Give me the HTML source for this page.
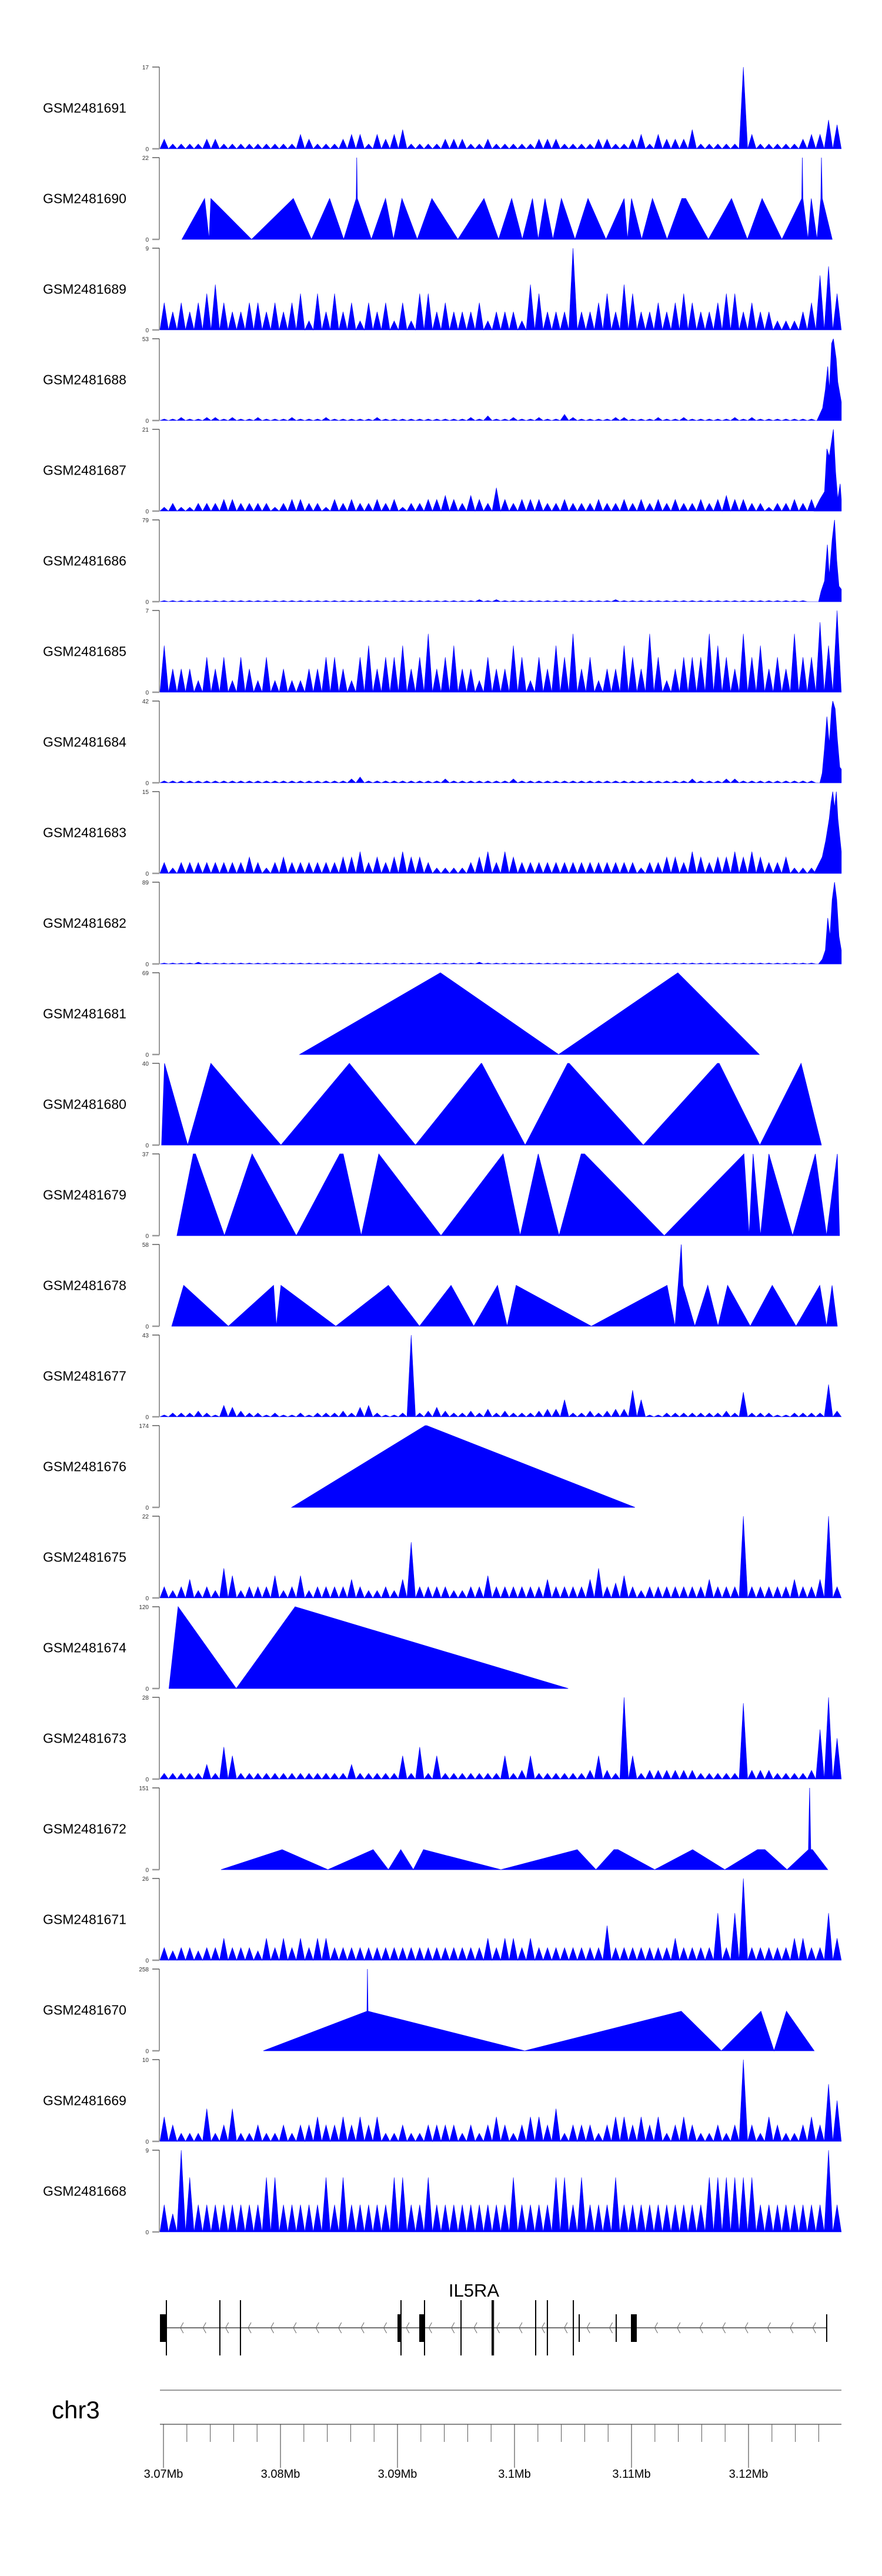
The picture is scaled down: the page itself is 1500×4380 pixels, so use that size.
<!DOCTYPE html>
<html><head><meta charset="utf-8">
<style>
html,body{margin:0;padding:0;background:#fff;}
svg{display:block;font-family:"Liberation Sans",sans-serif;}
</style></head>
<body>
<svg id="chart" width="1500" height="4380" viewBox="0 0 1500 4380" xmlns="http://www.w3.org/2000/svg">
<rect x="0" y="0" width="1500" height="4380" fill="#fff"/>
</svg>
<script>
// ---------- data ----------
const trackNames = ["GSM2481691","GSM2481690","GSM2481689","GSM2481688","GSM2481687","GSM2481686","GSM2481685","GSM2481684","GSM2481683","GSM2481682","GSM2481681","GSM2481680","GSM2481679","GSM2481678","GSM2481677","GSM2481676","GSM2481675","GSM2481674","GSM2481673","GSM2481672","GSM2481671","GSM2481670","GSM2481669","GSM2481668"];
const trackMax = [17,22,9,53,21,79,7,42,15,89,69,40,37,58,43,174,22,120,28,151,26,258,10,9];

// binned coverage (80 bins across the window), null = none
const bins1691 = [2,1,1,1,1,2,2,1,1,1, 1,1,1,1,1,1,3,2,1,1, 1,2,3,3,1,3,2,3,4,1, 1,1,1,2,2,2,1,1,2,1, 1,1,1,1,2,2,2,1,1,1, 1,2,2,1,1,2,3,1,3,2, 2,2,4,1,1,1,1,1,17,3, 1,1,1,1,1,2,3,3,6,5];
const bins1689 = [3,2,3,2,3,4,5,3,2,2, 3,3,2,3,2,3,4,1,4,2, 4,2,3,1,3,2,3,1,3,1, 4,4,2,3,2,2,2,3,1,2, 2,2,1,5,4,2,2,2,9,2, 2,3,4,2,5,4,2,2,3,2, 3,4,3,2,2,3,4,4,2,3, 2,2,1,1,1,2,3,6,7,4];
const bins1688 = [1,1,2,1,1,2,2,1,2,1, 1,2,1,1,1,2,1,1,1,2, 1,1,1,1,1,2,1,1,1,1, 1,1,1,1,1,1,2,1,3,1, 1,2,1,1,2,1,1,4,2,1, 1,1,1,2,2,1,1,1,2,1, 1,2,1,1,1,1,1,2,1,2, 1,1,1,1,1,1,1,0,0,0];
const bins1687 = [1,2,1,1,2,2,2,3,3,2, 2,2,2,1,2,3,3,2,2,1, 3,2,3,2,2,3,2,3,1,2, 2,3,3,4,3,2,4,3,2,6, 3,2,3,3,3,2,2,3,2,2, 2,3,2,2,3,2,3,2,3,2, 3,2,2,3,2,3,4,3,3,2, 2,1,2,2,3,2,3,0,0,0];
const bins1686 = [1,1,1,1,1,1,1,1,1,1, 1,1,1,1,1,1,1,1,1,1, 1,1,1,1,1,1,1,1,1,1, 1,1,1,1,1,1,1,2,1,2, 1,1,1,1,1,1,1,1,1,1, 1,1,1,2,1,1,1,1,1,1, 1,1,1,1,1,1,1,1,1,1, 1,1,1,1,1,1,0,0,0,0];
const bins1685 = [4,2,2,2,1,3,2,3,1,3, 2,1,3,1,2,1,1,2,2,3, 3,2,1,3,4,2,3,3,4,2, 3,5,2,3,4,2,2,1,3,2, 2,4,3,1,3,2,4,3,5,2, 3,1,2,2,4,3,2,5,3,1, 2,3,3,3,5,4,3,2,5,3, 4,2,3,2,5,3,3,6,4,7];
const bins1684 = [1,1,1,1,1,1,1,1,1,1, 1,1,1,1,1,1,1,1,1,1, 1,1,2,3,1,1,1,1,1,1, 1,1,1,2,1,1,1,1,1,1, 1,2,1,1,1,1,1,1,1,1, 1,1,1,1,1,1,1,1,1,1, 1,1,2,1,1,1,2,2,1,1, 1,1,1,1,1,1,1,0,0,0];
const bins1683 = [2,1,2,2,2,2,2,2,2,2, 3,2,1,2,3,2,2,2,2,2, 2,3,3,4,2,3,2,3,4,3, 3,2,1,1,1,1,2,3,4,2, 4,3,2,2,2,2,2,2,2,2, 2,2,2,2,2,2,1,2,2,3, 3,2,4,3,2,3,3,4,3,4, 3,2,2,3,1,1,1,2,0,0];
const bins1682 = [1,1,1,1,2,1,1,1,1,1, 1,1,1,1,1,1,1,1,1,1, 1,1,1,1,1,1,1,1,1,1, 1,1,1,1,1,1,1,2,1,1, 1,1,1,1,1,1,1,1,1,1, 1,1,1,1,1,1,1,1,1,1, 1,1,1,1,1,1,1,1,1,1, 1,1,1,1,1,1,1,0,0,0];
const bins1677 = [1,2,2,2,3,2,1,6,5,3, 2,2,1,2,1,1,2,1,2,2, 2,3,2,5,6,2,1,1,2,43, 2,3,5,3,2,2,3,2,4,2, 3,2,2,2,3,4,4,9,2,2, 3,2,3,4,4,14,9,1,1,2, 2,2,2,2,2,2,3,2,13,2, 2,2,1,1,2,2,2,2,17,3];
const bins1675 = [3,2,3,5,2,3,2,8,6,2, 3,3,3,6,2,3,6,2,3,3, 3,3,5,3,2,2,3,2,5,15, 3,3,3,3,2,2,3,3,6,3, 3,3,3,3,3,5,3,3,3,3, 5,8,3,4,6,3,2,3,3,3, 3,3,3,3,5,3,3,3,22,3, 3,3,3,3,5,3,3,5,22,3];
const bins1673 = [2,2,2,2,2,5,2,11,8,2, 2,2,2,2,2,2,2,2,2,2, 2,2,5,2,2,2,2,2,8,2, 11,2,8,2,2,2,2,2,2,2, 8,2,3,8,2,2,2,2,2,2, 3,8,3,2,28,8,2,3,3,3, 3,3,3,2,2,2,2,2,26,3, 3,3,2,2,2,2,3,17,28,14];
const bins1671 = [4,3,4,4,3,4,4,7,4,4, 4,3,7,4,7,4,7,4,7,7, 4,4,4,4,4,4,4,4,4,4, 4,4,4,4,4,4,4,4,7,4, 7,7,4,7,4,4,4,4,4,4, 4,4,11,4,4,4,4,4,4,4, 7,4,4,4,4,15,4,15,26,4, 4,4,4,4,7,7,4,4,15,7];
const bins1669 = [3,2,1,1,1,4,1,2,4,1, 1,2,1,1,2,1,2,2,3,2, 2,3,2,3,2,3,1,1,2,1, 1,2,2,2,2,1,2,1,2,3, 2,1,2,3,3,2,4,1,2,2, 2,1,2,3,3,2,3,2,3,1, 2,3,2,1,1,2,1,2,10,2, 1,3,2,1,1,2,3,2,7,5];
const bins1668 = [3,2,9,6,3,3,3,3,3,3, 3,3,6,6,3,3,3,3,3,6, 3,6,3,3,3,3,3,6,6,3, 3,6,3,3,3,3,3,3,3,3, 3,6,3,3,3,3,6,6,3,6, 3,3,3,6,3,3,3,3,3,3, 3,3,3,3,6,6,6,6,6,6, 3,3,3,3,3,3,3,3,9,3];

// vertex lists [position kb from 3.07Mb, value]
const pts1690 = [[1.58,0],[3.52,11],[3.90,0],[4.05,11],[7.53,0],[11.10,11],[12.65,0],[14.20,11],[15.40,0],[16.47,11],[16.52,22],[16.57,11],[17.77,0],[18.98,11],[19.66,0],[20.38,11],[21.69,0],[22.94,11],[25.16,0],[27.39,11],[28.64,0],[29.76,11],[30.67,0],[31.54,11],[32.03,0],[32.61,11],[33.28,0],[34.01,11],[35.17,0],[36.28,11],[37.82,0],[39.37,11],[39.66,0],[40.00,11],[40.87,0],[41.79,11],[43.04,0],[44.30,11],[44.64,11],[46.57,0],[48.55,11],[49.90,0],[51.16,11],[52.85,0],[54.55,11],[54.60,22],[54.65,11],[55.08,0],[55.36,11],[55.85,0],[56.18,11],[56.23,22],[56.30,11],[57.15,0]];
const pts1681 = [[11.64,0],[23.67,69],[33.77,0],[43.96,69],[50.92,0]];
const pts1680 = [[-0.16,0],[0.09,40],[2.07,0],[4.05,40],[10.04,0],[15.89,40],[21.54,0],[27.15,40],[27.20,40],[30.91,0],[34.54,40],[34.68,40],[41.01,0],[47.34,40],[47.49,40],[50.97,0],[54.49,40],[56.23,0]];
const pts1679 = [[1.15,0],[2.55,37],[2.74,37],[5.21,0],[7.58,37],[11.35,0],[15.07,37],[15.36,37],[16.90,0],[18.40,37],[23.72,0],[29.03,37],[30.48,0],[32.03,37],[33.81,0],[35.70,37],[35.99,37],[42.80,0],[49.61,37],[50.05,0],[50.39,37],[51.02,0],[51.74,37],[53.77,0],[55.71,37],[56.67,0],[57.59,37],[57.78,0]];
const pts1678 = [[0.71,0],[1.73,29],[5.55,0],[9.41,29],[9.65,0],[10.04,29],[14.73,0],[19.22,29],[21.88,0],[24.58,29],[26.52,0],[28.55,29],[29.37,0],[30.14,29],[36.57,0],[43.04,29],[43.72,0],[44.25,58],[44.39,29],[45.41,0],[46.52,29],[47.39,0],[48.21,29],[50.15,0],[52.03,29],[54.06,0],[56.09,29],[56.67,0],[57.14,29],[57.59,0]];
const pts1676 = [[10.96,0],[22.36,174],[22.51,174],[40.29,0]];
const pts1674 = [[0.47,0],[1.25,120],[6.22,0],[11.25,120],[34.59,0]];
const pts1672 = [[4.92,0],[10.14,37],[14.05,0],[17.92,37],[19.22,0],[20.28,37],[21.35,0],[22.22,37],[28.84,0],[35.36,37],[36.96,0],[38.50,37],[38.84,37],[41.98,0],[45.22,37],[47.97,0],[50.77,37],[51.40,37],[53.29,0],[55.12,37],[55.22,151],[55.32,37],[55.46,37],[56.77,0]];
const pts1670 = [[8.54,0],[17.39,125],[17.43,258],[17.48,125],[30.87,0],[44.25,125],[47.68,0],[51.06,125],[52.18,0],[53.24,125],[55.61,0]];
// promoter peaks (end of window)
const peak1688 = [[55.85,0],[56.33,8],[56.57,20],[56.77,35],[56.91,20],[57.10,50],[57.25,53],[57.49,40],[57.63,25],[57.93,12],[57.93,0]];
const peak1687 = [[55.60,0],[56.10,3],[56.50,5],[56.70,16],[56.90,14],[57.05,17],[57.25,21],[57.44,10],[57.63,3],[57.83,7],[57.93,3],[57.93,0]];
const peak1686 = [[55.99,0],[56.20,10],[56.50,20],[56.74,55],[56.90,25],[57.15,60],[57.35,79],[57.54,40],[57.73,15],[57.93,12],[57.93,0]];
const peak1684 = [[56.10,0],[56.30,5],[56.50,18],[56.70,34],[56.90,20],[57.10,38],[57.20,42],[57.40,38],[57.60,22],[57.80,8],[57.93,7],[57.93,0]];
const peak1683 = [[55.60,0],[56.30,3],[56.60,6],[56.90,10],[57.05,13],[57.20,15],[57.35,12],[57.50,15],[57.64,10],[57.93,4],[57.93,0]];
const peak1682 = [[55.99,0],[56.30,5],[56.57,15],[56.77,50],[56.96,30],[57.15,70],[57.35,89],[57.54,70],[57.73,30],[57.93,15],[57.93,0]];

// gene model IL5RA (positions kb from 3.07Mb)
const exonLines = [0.25,4.82,6.58,20.30,22.31,25.43,28.09,28.2,31.81,32.81,35.03];
const exonShortLines = [35.53,38.69,56.68];
const exonBoxes = [[-0.30,0.20],[20.0,20.25],[21.86,22.31],[39.95,40.45]];
const geneSpan = [0.25,56.68];
const axisTickLabels = ["3.07Mb","3.08Mb","3.09Mb","3.1Mb","3.11Mb","3.12Mb"];
const axisTickPos = [0,10,20,30,40,50];

// ---------- layout ----------
const svg = document.getElementById('chart');
const NS = 'http://www.w3.org/2000/svg';
const TOP0 = 114, PITCH = 154.0, H = 139, AX = 271, XR = 1431;
const WIN0 = -0.30, WIN1 = 57.93;
function xs(p){ return 278 + p*19.9; }
function mk(tag, attrs, parent){ const e=document.createElementNS(NS,tag); for(const k in attrs) e.setAttribute(k,attrs[k]); (parent||svg).appendChild(e); return e; }

const binsMap = {GSM2481691:bins1691,GSM2481689:bins1689,GSM2481688:bins1688,GSM2481687:bins1687,GSM2481686:bins1686,GSM2481685:bins1685,GSM2481684:bins1684,GSM2481683:bins1683,GSM2481682:bins1682,GSM2481677:bins1677,GSM2481675:bins1675,GSM2481673:bins1673,GSM2481671:bins1671,GSM2481669:bins1669,GSM2481668:bins1668};
const ptsMap = {GSM2481690:pts1690,GSM2481681:pts1681,GSM2481680:pts1680,GSM2481679:pts1679,GSM2481678:pts1678,GSM2481676:pts1676,GSM2481674:pts1674,GSM2481672:pts1672,GSM2481670:pts1670,GSM2481688:peak1688,GSM2481687:peak1687,GSM2481686:peak1686,GSM2481684:peak1684,GSM2481683:peak1683,GSM2481682:peak1682};

trackNames.forEach((name,i)=>{
  const top = TOP0 + i*PITCH, base = top + H, mx = trackMax[i];
  const yv = v => base - (v/mx)*H;
  const g = mk('g',{});
  
  
  const lab = mk('text',{x:73,y:top+H/2+8,'font-size':23,fill:'#000'},g);
  lab.textContent = name;
  
  
  const ax = mk('line',{x1:AX,y1:top,x2:AX,y2:base,stroke:'#999','stroke-width':2},g);
  
  
  mk('line',{x1:259,y1:top,x2:AX,y2:top,stroke:'#333','stroke-width':1.2},g);
  mk('line',{x1:259,y1:base,x2:AX,y2:base,stroke:'#999','stroke-width':2.5},g);
  const tMax = mk('text',{x:253,y:top+4,'font-size':10,'text-anchor':'end',fill:'#333'},g);
  tMax.textContent = String(mx);
  
  
  const t0 = mk('text',{x:253,y:base+4,'font-size':10,'text-anchor':'end',fill:'#333'},g);
  t0.textContent = '0';
  
  
  const b = binsMap[name];
  if(b){
    const w = (WIN1-WIN0)/b.length;
    let d = 'M'+xs(WIN0)+' '+base;
    b.forEach((v,k)=>{
      const l = WIN0+k*w;
      d += ' L'+xs(l).toFixed(1)+' '+base+' L'+xs(l+w/2).toFixed(1)+' '+yv(v).toFixed(1)+' L'+xs(l+w).toFixed(1)+' '+base;
    });
    d += ' Z';
    const p = mk('path',{d:d,fill:'#0000ff',stroke:'#0000ff','stroke-width':0.6},g);
    
    
  }
  const pts = ptsMap[name];
  if(pts){
    let d = 'M'+xs(pts[0][0]).toFixed(1)+' '+base;
    pts.forEach(q=>{ d += ' L'+xs(q[0]).toFixed(1)+' '+yv(q[1]).toFixed(1); });
    d += ' L'+xs(pts[pts.length-1][0]).toFixed(1)+' '+base+' Z';
    const p = mk('path',{d:d,fill:'#0000ff',stroke:'#0000ff','stroke-width':0.8},g);
    
    
  }
});

// ---------- gene track ----------
const gg = mk('g',{});


const gl = mk('text',{x:806,y:3905,'font-size':31,'text-anchor':'middle',fill:'#000'},gg);
gl.textContent = 'IL5RA';


const GY = 3958;
mk('line',{x1:xs(geneSpan[0]),y1:GY,x2:xs(geneSpan[1]),y2:GY,stroke:'#444','stroke-width':1.5},gg);
for(let p=geneSpan[0]+1.2; p<geneSpan[1]-0.5; p+=1.93){
  const x = xs(p);
  mk('polyline',{points:(x+5)+','+(GY-9)+' '+x+','+GY+' '+(x+5)+','+(GY+9),fill:'none',stroke:'#666','stroke-width':1},gg);
}
exonLines.forEach(p=>{ const e=mk('line',{x1:xs(p),y1:3911,x2:xs(p),y2:4005,stroke:'#000','stroke-width':2},gg);
  
   });
exonShortLines.forEach(p=>{ const e=mk('line',{x1:xs(p),y1:3935,x2:xs(p),y2:3982,stroke:'#000','stroke-width':2},gg);
  
   });
exonBoxes.forEach(b=>{ const e=mk('rect',{x:xs(b[0]),y:3935,width:xs(b[1])-xs(b[0]),height:47,fill:'#000'},gg);
  
   });

// ---------- genome axis ----------
const ga = mk('g',{});


const chr = mk('text',{x:88,y:4112,'font-size':42,fill:'#000'},ga);
chr.textContent = 'chr3';


mk('line',{x1:AX+1,y1:4064,x2:XR,y2:4064,stroke:'#999','stroke-width':2},ga);
mk('line',{x1:AX+1,y1:4122,x2:XR,y2:4122,stroke:'#888','stroke-width':2},ga);
for(let p=0; p<=WIN1; p+=2){
  mk('line',{x1:xs(p),y1:4122,x2:xs(p),y2:4152,stroke:'#555','stroke-width':1},ga);
}
axisTickPos.forEach((p,k)=>{
  mk('line',{x1:xs(p),y1:4122,x2:xs(p),y2:4196,stroke:'#333','stroke-width':1},ga);
  const t = mk('text',{x:xs(p),y:4213,'font-size':20,'text-anchor':'middle',fill:'#000'},ga);
  t.textContent = axisTickLabels[k];
  
  
});
</script>
</body></html>
